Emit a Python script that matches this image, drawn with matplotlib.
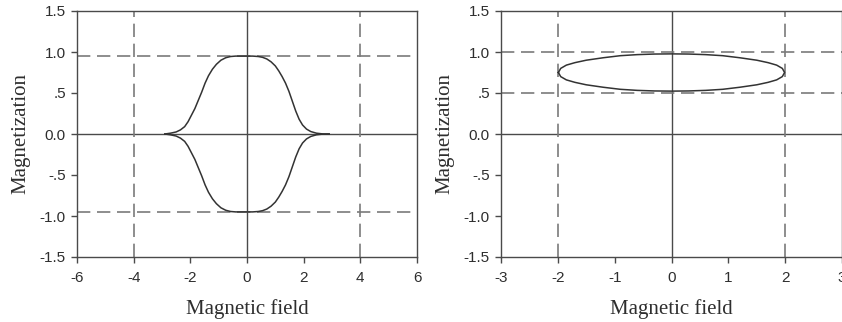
import numpy as np
import matplotlib
matplotlib.use('Agg')
import matplotlib.pyplot as plt

# Left panel: upper branch (lower branch is its mirror, read separately)
field_a = [-2.90, -2.70, -2.50, -2.35, -2.20, -2.08, -1.96, -1.84, -1.72, -1.60,
           -1.48, -1.36, -1.22, -1.08, -0.92, -0.75, -0.58, -0.40, -0.20, 0.00,
           0.20, 0.40, 0.55, 0.70, 0.85, 1.00, 1.12, 1.24, 1.36, 1.48,
           1.60, 1.72, 1.84, 1.96, 2.10, 2.25, 2.45, 2.70, 2.90]
mag_a_up = [0.00, 0.01, 0.025, 0.05, 0.09, 0.15, 0.23, 0.31, 0.41, 0.51,
            0.62, 0.71, 0.79, 0.85, 0.90, 0.93, 0.945, 0.95, 0.95, 0.95,
            0.95, 0.945, 0.935, 0.915, 0.88, 0.83, 0.77, 0.70, 0.62, 0.52,
            0.40, 0.28, 0.18, 0.11, 0.06, 0.03, 0.01, 0.00, 0.00]
mag_a_down = [-0.00, -0.01, -0.025, -0.05, -0.09, -0.15, -0.23, -0.31, -0.41, -0.51,
              -0.62, -0.71, -0.79, -0.85, -0.90, -0.93, -0.945, -0.95, -0.95, -0.95,
              -0.95, -0.945, -0.935, -0.915, -0.88, -0.83, -0.77, -0.70, -0.62, -0.52,
              -0.40, -0.28, -0.18, -0.11, -0.06, -0.03, -0.01, -0.00, -0.00]
hlines_a = [0.95, -0.95]
vlines_a = [-4, 4]

# Right panel: closed loop
field_b = [-1.99, -1.95, -1.85, -1.70, -1.50, -1.20, -0.90, -0.60, -0.30, 0.00,
           0.30, 0.60, 0.90, 1.20, 1.50, 1.70, 1.85, 1.95, 1.99,
           1.95, 1.85, 1.70, 1.50, 1.20, 0.90, 0.60, 0.30, 0.00,
           -0.30, -0.60, -0.90, -1.20, -1.50, -1.70, -1.85, -1.95, -1.99]
mag_b = [0.75, 0.80, 0.84, 0.87, 0.90, 0.93, 0.955, 0.968, 0.975, 0.977,
         0.975, 0.968, 0.955, 0.93, 0.90, 0.87, 0.84, 0.80, 0.75,
         0.70, 0.66, 0.63, 0.60, 0.57, 0.545, 0.532, 0.525, 0.523,
         0.525, 0.532, 0.545, 0.57, 0.60, 0.63, 0.66, 0.70, 0.75]
hlines_b = [1.0, 0.5]
vlines_b = [-2, 2]

yticks = [-1.5, -1.0, -0.5, 0.0, 0.5, 1.0, 1.5]
ytick_labels = ['-1.5', '-1.0', '-.5', '0.0', '.5', '1.0', '1.5']
xticks_a = [-6, -4, -2, 0, 2, 4, 6]
xticks_b = [-3, -2, -1, 0, 1, 2, 3]

W, H = 842, 322
fig = plt.figure(figsize=(W / 100, H / 100), dpi=100)
ax1 = fig.add_axes([77 / W, 65 / H, 340 / W, 246 / H])
ax2 = fig.add_axes([501 / W, 65 / H, 341 / W, 246 / H])

curve_c = '#333333'
axis_c = '#4a4a4a'
dash_c = '#7a7a7a'
text_c = '#2e2e2e'
tick_font = dict(family='Liberation Sans', size=11)
label_font = dict(family='Liberation Serif', size=15)


def style(ax, xlim, xticks):
    ax.set_xlim(xlim)
    ax.set_ylim(-1.5, 1.5)
    ax.set_xticks(xticks)
    ax.set_xticklabels([str(t) for t in xticks], **tick_font, color=text_c)
    ax.set_yticks(yticks)
    ax.set_yticklabels(ytick_labels, **tick_font, color=text_c)
    ax.tick_params(direction='out', length=4, width=1, color=axis_c)
    ax.tick_params(axis='x', pad=6)
    ax.tick_params(axis='y', pad=4)
    for sp in ax.spines.values():
        sp.set_color(axis_c)
        sp.set_linewidth(1.0)
    ax.axhline(0, color=axis_c, lw=1.0, zorder=1)
    ax.axvline(0, color=axis_c, lw=1.0, zorder=1)
    ax.set_xlabel('Magnetic field', **label_font, color=text_c, labelpad=10)
    ax.set_ylabel('Magnetization', **label_font, color=text_c, labelpad=7)


style(ax1, (-6, 6), xticks_a)
for y in hlines_a:
    ax1.axhline(y, color=dash_c, lw=1.2, dashes=(8, 4), zorder=1)
for x in vlines_a:
    ax1.axvline(x, color=dash_c, lw=1.2, dashes=(8, 4), zorder=1)
ax1.plot(field_a, mag_a_up, color=curve_c, lw=1.1, zorder=3)
ax1.plot(field_a, mag_a_down, color=curve_c, lw=1.1, zorder=3)

style(ax2, (-3, 3), xticks_b)
for y in hlines_b:
    ax2.axhline(y, color=dash_c, lw=1.2, dashes=(8, 4), zorder=1)
for x in vlines_b:
    ax2.axvline(x, color=dash_c, lw=1.2, dashes=(8, 4), zorder=1)
ax2.plot(field_b, mag_b, color=curve_c, lw=1.1, zorder=3)

fig.savefig('out.png', dpi=100, facecolor='white')
